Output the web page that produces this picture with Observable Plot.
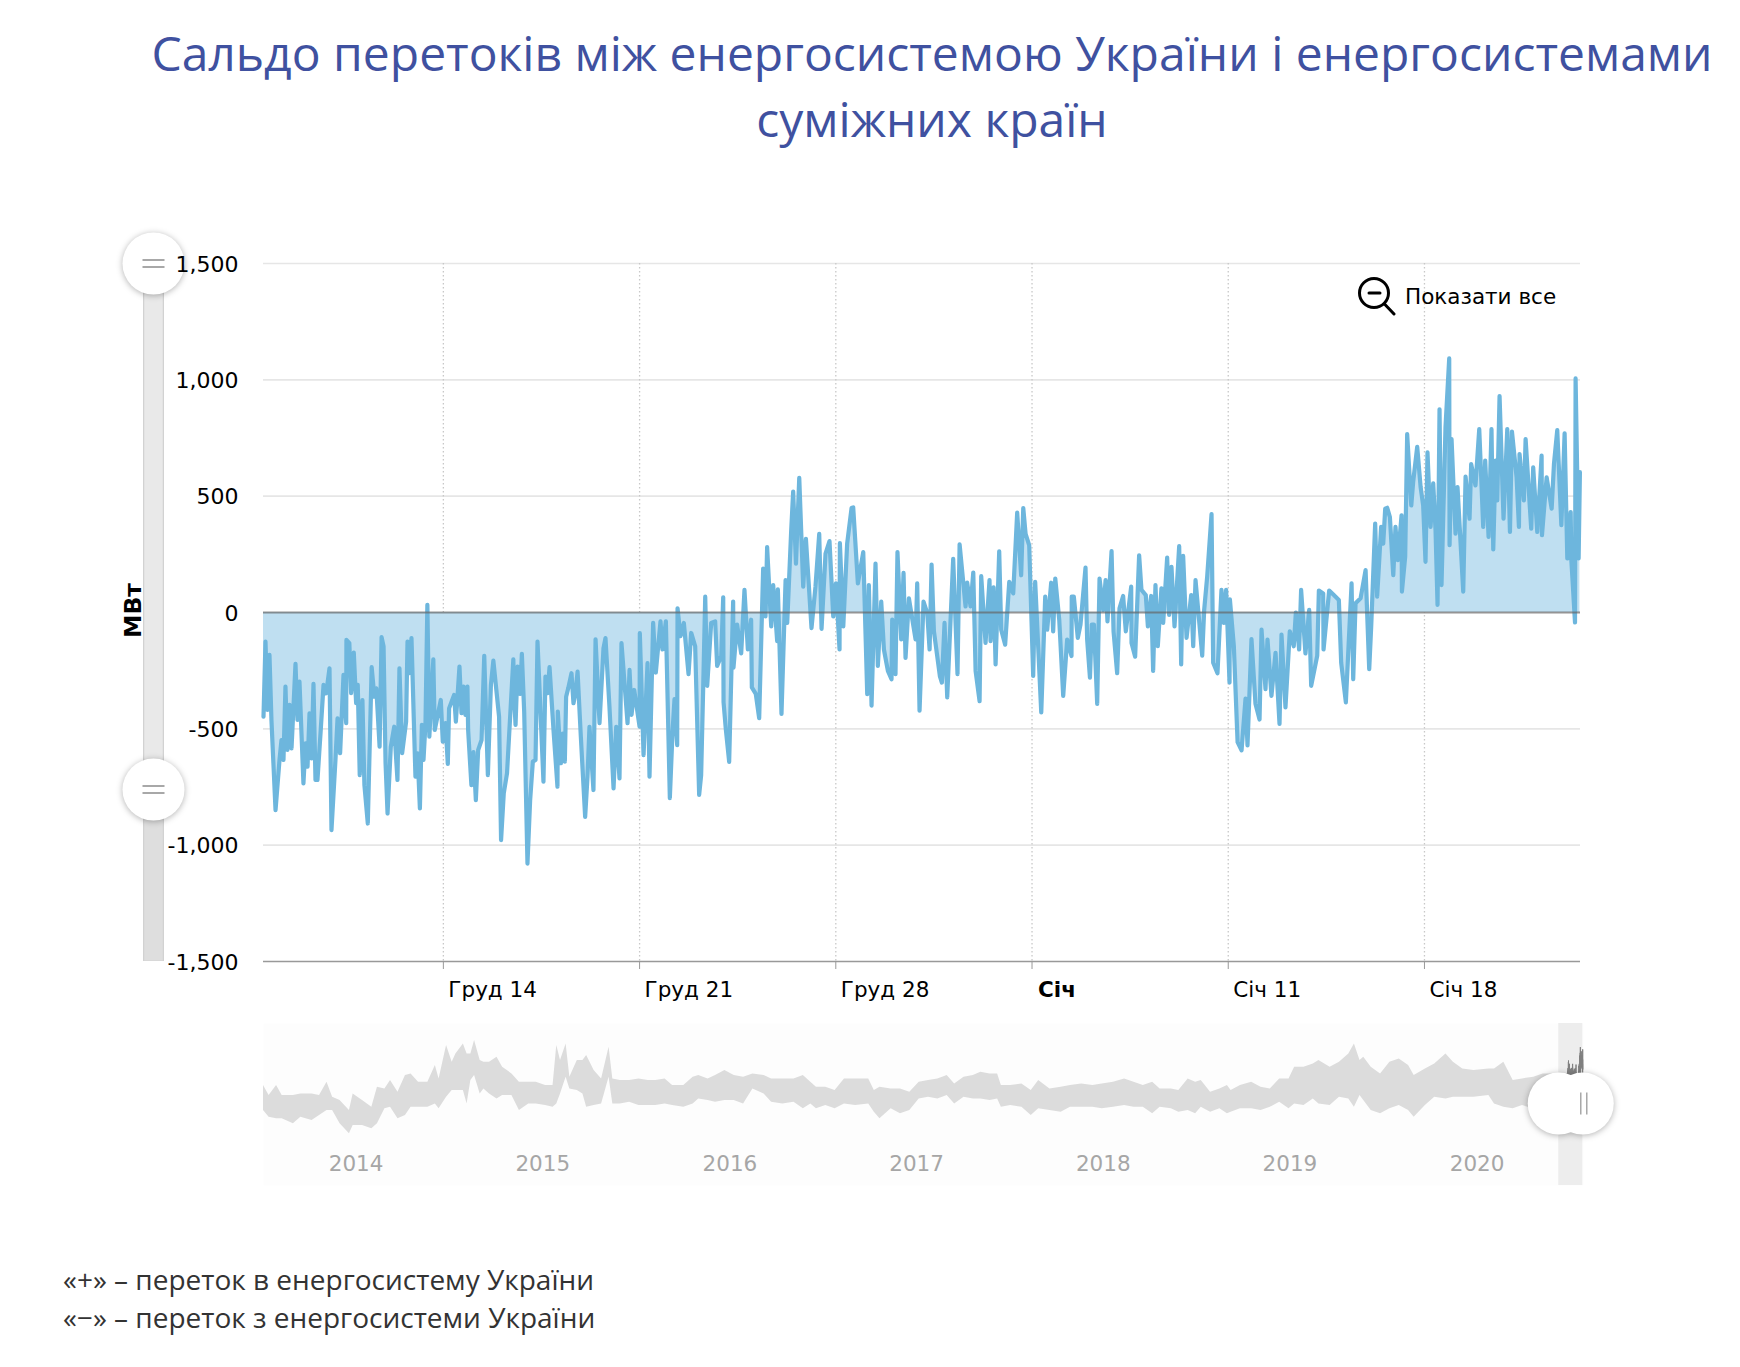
<!DOCTYPE html>
<html lang="uk">
<head>
<meta charset="utf-8">
<script src="https://cdn.jsdelivr.net/npm/d3@7"></script>
<script src="https://cdn.jsdelivr.net/npm/@observablehq/plot@0.6"></script>
<style>
  html, body { margin: 0; padding: 0; background: #fff; width: 1740px; height: 1367px; overflow: hidden; }
  #page { position: relative; width: 1740px; height: 1367px; }
  h1 { margin: 0; position: absolute; left: 100px; top: 20px; width: 1664px; text-align: center;
       font: 400 48px/66px "Open Sans", sans-serif; color: #3f51a0; z-index: 2; white-space: nowrap; }
  #main { position: absolute; left: 0; top: 190px; }
  #nav { position: absolute; left: 0; top: 1010px; }
  #reset { position: absolute; left: 1357px; top: 276px; display: flex; align-items: center; z-index: 2;
           font: 21.5px "DejaVu Sans", sans-serif; color: #000; }
  #reset svg { margin-right: 8px; display: block; }
  #caption { position: absolute; left: 63px; top: 1260px; font: 400 28px/38px "Open Sans", sans-serif; color: #333; z-index: 2; }
  .handle { filter: drop-shadow(0 1px 3px rgba(0,0,0,.3)); }
</style>
</head>
<body>
<div id="page">
  <h1>Сальдо перетоків між енергосистемою України і енергосистемами<br>суміжних країн</h1>
  <div id="main"></div>
  <div id="nav"></div>
  <div id="reset">
    <svg width="40" height="40" viewBox="0 0 40 40" fill="none" stroke="#000" stroke-width="3" stroke-linecap="round">
      <circle cx="17" cy="17" r="14.5"/><path d="M12 17H23"/><path d="M27.500 28L37 38"/>
    </svg>
    <span>Показати все</span>
  </div>
  <div id="caption">«+» – переток в енергосистему України<br>«−» – переток з енергосистеми України</div>
</div>
<script>
// Net balance (hours since the start of the visible window, MW)
const balanceA = [[0,-448],[1.7,-125],[3.4,-419],[5.1,-182],[6.8,-462],[10.3,-849],[13.7,-634],[15.4,-548],[17.1,-634],[18.8,-318],[20.5,-591],[22.3,-397],[24,-584],[27.4,-221],[29.1,-462],[30.8,-297],[34.2,-735],[36,-562],[37.7,-663],[39.4,-433],[41.1,-627],[42.8,-307],[44.5,-720],[46.2,-720],[49,-505],[51.4,-311],[53.7,-347],[56.5,-240],[58.2,-935],[61.6,-634],[63.4,-455],[65.6,-605],[68.5,-268],[70.8,-476],[71,-118],[73.5,-132],[75,-347],[77.3,-172],[79.3,-390],[80.7,-311],[82.4,-699],[84.7,-376],[86.4,-742],[89.3,-907],[92.6,-235],[94.9,-362],[96.6,-326],[99.4,-577],[101.1,-106],[102.8,-146],[104.5,-648],[106.2,-864],[109,-577],[111.9,-491],[114.7,-720],[116.4,-240],[118.7,-605],[122.1,-469],[123.3,-125],[124.9,-261],[126.7,-110],[130.1,-706],[131.9,-605],[133.9,-842],[135.6,-483],[137,-634],[138.7,-475],[140.3,33],[142,-534],[145.4,-201],[146.6,-505],[151.8,-376],[153.5,-555],[155.8,-475],[157.8,-651],[158.9,-412],[163.2,-354],[164.7,-469],[167.8,-232],[169.5,-433],[171.2,-318],[172.9,-440],[174.6,-318],[175.2,-505],[178,-742],[179.8,-600],[181.8,-806],[183.8,-591],[186.7,-548],[189,-186],[192.1,-699],[194.7,-311],[196.8,-207],[201.7,-448],[203.4,-978],[205.7,-778],[208.5,-691],[213.9,-201],[214.6,-362],[215.8,-483],[217.5,-232],[219.8,-350],[221.2,-178],[223.2,-426],[226,-1079],[228.3,-806],[230.6,-641],[232.9,-634],[234.6,-125],[239.7,-727],[241.4,-275],[243.2,-347],[244.9,-235],[248.3,-505],[251.7,-749],[252,-426],[254.6,-648],[256.3,-520],[258,-641],[259.1,-362],[260.9,-326],[263.7,-261],[265.4,-390],[267.1,-347],[268.9,-254],[271.7,-534],[275.4,-878],[277.4,-706],[279.1,-491],[282.5,-763],[284.3,-115],[287.7,-476],[291.1,-153],[292.8,-110],[296.2,-405],[299.7,-756],[302,-491],[304.8,-713],[306.5,-132],[311.7,-476],[313.4,-247],[315.1,-440],[317.4,-333],[322,-491],[322.2,-89],[325.4,-613],[328.8,-218],[330.5,-706]];
const balanceB = [[333.6,-45],[335.9,-258],[339.9,-38],[341.6,-159],[344.5,-38],[347.9,-798],[350.2,-514],[351.9,-372],[354.2,-570],[354.5,18],[357,-102],[359.9,-45],[363.9,-265],[366.2,-88],[369.6,-145],[373,-784],[374.7,-700],[376.5,-315],[378.2,68],[379.9,-315],[383.3,-45],[386.7,-38],[388.4,-230],[391.9,-187],[393.6,65],[393.9,-386],[395.8,-500],[398.7,-642],[402.1,47],[402.4,-237],[405.5,-52],[409,-176],[411.8,97],[414.7,-159],[417.5,-31],[418.1,-322],[421.5,-350],[424.4,-454],[427.8,189],[429.8,-17],[431.2,281],[434.7,-60],[436.4,118],[439.8,-123],[440.4,99],[443.5,-436],[447,139],[448.4,-45],[451.8,352],[453.5,520],[455.9,210],[458.7,579],[462.1,111],[464.4,317],[469.2,-67],[472.6,111],[475.8,338],[477.8,-70],[481.2,253],[484.6,307],[487.8,-17],[490.1,125],[493.2,-159],[493.5,298],[496.4,-60],[499.7,295],[503.5,449],[504.9,452],[508.9,125],[513.5,260],[516.9,-351],[518.3,118],[520.6,-400],[524,210],[526,-230],[528.9,47],[531.2,-159],[534.6,-251],[537.7,-287],[538.3,-31],[541.1,-265],[542.8,260],[546,-116],[548,170],[549.7,-195],[552.6,61],[558.3,-116],[559.7,125],[561.7,-422],[565.1,47],[568.3,-3],[570.3,-159],[572,206],[574,-81],[579.1,-273],[580.8,-301],[583.1,-45],[585.4,-365],[590.5,231],[594.2,-265],[596,293],[601.1,26],[602.5,128],[605.4,26],[607.7,172],[609.7,-251],[613.1,-381],[614.5,156],[618.2,-131],[621.6,139],[622.5,-123],[625.1,108],[626.8,-223],[629.9,263],[631.6,-74],[635,-138],[638.5,132],[641.9,82],[645.3,429],[648.7,160],[650.5,449],[652.5,338],[655.6,288],[659,-273],[660.7,132],[665.9,-429],[669.3,68],[671,-74],[674.4,128],[676.1,-81],[677.9,146],[681.3,-31],[684.7,-358],[688.1,-116]];
const balanceC = [[691.8,-187],[692,68],[693.8,68],[697.2,-109],[699.5,-52],[701.8,80],[703.8,193],[705.2,-116],[707.6,-280],[709.2,-52],[711,-52],[713.8,-393],[715.8,146],[719,11],[721,139],[722.6,-38],[726.1,264],[727.8,-81],[730.9,-261],[732.9,18],[736,71],[738.3,-81],[742.9,111],[743.2,-131],[746.3,-190],[749.7,246],[751.7,97],[755.4,75],[757.2,-60],[760,71],[761.7,-251],[763.7,118],[765.7,-145],[768.8,104],[770.3,-45],[773.7,236],[775.4,-10],[777.4,196],[780,-60],[784,285],[785.7,-223],[787.4,243],[790.3,-109],[794.3,75],[796,-145],[798,139],[803.7,-185],[805.4,11],[808,156],[811.7,423],[813.1,-216],[816.8,-261],[820.2,97],[822.2,-45],[824.2,97],[827.1,-301],[827.4,57],[830.8,-145],[834,-557],[837.4,-592],[840.8,-370],[842.5,-571],[845.9,-114],[849.3,-392],[852.8,-460],[854.5,-74],[857.9,-329],[859.6,-116],[863,-358],[866.5,-173],[869.9,-479],[871.6,-95],[875,-408],[878.7,-81],[882.1,-145],[883.9,0],[886.7,-159],[888.4,97],[892.1,-176],[895.3,11],[897,-315],[902.2,-185],[903.6,94],[907.3,82],[907.6,-159],[912.4,94],[916.4,75],[920.7,54],[922.7,-216],[926.7,-386],[931.6,125],[933,-287],[935,40],[939.3,61],[943.6,182],[946.7,-244]];
const balanceD = [[948.4,-60],[951.8,382],[953.5,68],[956.9,368],[958.7,296],[960.4,446],[962.1,450],[964.4,410],[967.3,161],[969.2,368],[971.2,225],[974.4,418],[974.7,90],[977.5,240],[979.2,767],[982.7,460],[984.3,560],[987.8,712],[990.7,540],[992.9,460],[994.9,218],[996.6,688],[999.2,368],[1001.5,555],[1003.5,353],[1005.2,33],[1006.9,873],[1008.6,118],[1012,795],[1015.2,1092],[1015.5,289],[1017.2,745],[1020.6,339],[1022.3,539],[1027.2,90],[1029.2,584],[1032.6,403],[1034,638],[1037.7,546],[1040.9,788],[1044.3,368],[1046,653],[1048.9,325],[1051.4,788],[1052.9,271],[1054.9,653],[1056.3,482],[1058.3,930],[1061.7,403],[1064.9,788],[1067.2,346],[1068.9,778],[1072.9,580],[1074.9,368],[1075.4,681],[1079.1,482],[1080.6,745],[1085.4,360],[1087.1,624],[1090.6,346],[1094.3,674],[1094.6,332],[1098.6,581],[1102.9,446],[1104.9,640],[1107.7,784],[1111.2,375],[1114,770],[1116.3,232],[1119.2,432],[1119.7,232],[1122.9,-43],[1123.4,1006],[1126,232],[1127.1,603]];

// Navigator envelope: [decimal year, high MW, low MW]
const overview2014 = [[2014,-384,-1344],[2014.03,-768,-1600],[2014.07,-384,-1664],[2014.10,-768,-1664],[2014.16,-768,-1856],[2014.20,-704,-1600],[2014.26,-704,-1728],[2014.30,-768,-1536],[2014.34,-256,-1344],[2014.37,-832,-1344],[2014.41,-960,-1856],[2014.46,-1344,-2240],[2014.48,-704,-1920],[2014.53,-960,-1920],[2014.58,-1216,-2048],[2014.61,-448,-1856],[2014.65,-512,-1280],[2014.68,-192,-1216],[2014.72,-640,-1664],[2014.76,0,-1536],[2014.79,64,-1216],[2014.83,-256,-1216],[2014.88,-256,-1216],[2014.92,384,-1088],[2014.94,-128,-1280],[2014.98,1152,-832]];
const overview2015 = [[2015.01,512,-576],[2015.03,832,-576],[2015.07,1216,-576],[2015.09,832,-1088],[2015.11,832,-192],[2015.13,1344,0],[2015.16,576,-704],[2015.18,512,-512],[2015.21,512,-704],[2015.25,704,-896],[2015.28,320,-768],[2015.33,64,-768],[2015.37,-256,-1344],[2015.42,-256,-1088],[2015.46,-256,-1088],[2015.51,-384,-1152],[2015.55,-384,-1216],[2015.57,1152,-1088],[2015.59,576,-704],[2015.62,1216,-64],[2015.64,-64,-512],[2015.68,576,-576],[2015.71,576,-704],[2015.73,768,-1216],[2015.77,192,-1152],[2015.81,-128,-1088],[2015.85,1088,-64],[2015.87,-128,-1088],[2015.91,-192,-1088],[2015.96,-192,-1024]];
const overview2016 = [[2016.01,-128,-1152],[2016.06,-192,-1152],[2016.10,-192,-1152],[2016.15,-128,-1088],[2016.19,-384,-1152],[2016.25,-384,-1216],[2016.30,-64,-1088],[2016.33,0,-896],[2016.38,-128,-960],[2016.42,0,-1024],[2016.47,192,-960],[2016.52,0,-960],[2016.57,-64,-1088],[2016.62,64,-512],[2016.68,0,-704],[2016.72,-128,-1024],[2016.78,-128,-1088],[2016.84,-128,-1024],[2016.89,0,-1280],[2016.93,-256,-1088],[2016.96,-448,-1280]];
const overview2017 = [[2017.01,-448,-1152],[2017.06,-576,-1280],[2017.11,-128,-1088],[2017.17,-128,-1152],[2017.24,-128,-1088],[2017.27,-576,-1408],[2017.30,-448,-1664],[2017.36,-512,-1280],[2017.41,-512,-1472],[2017.46,-640,-1344],[2017.51,-256,-896],[2017.56,-192,-832],[2017.61,-128,-896],[2017.66,0,-768],[2017.70,-320,-1088],[2017.75,-64,-832],[2017.80,0,-896],[2017.84,128,-896],[2017.89,64,-960],[2017.93,64,-896],[2017.95,-384,-1216]];
const overview2018 = [[2018,-384,-1152],[2018.06,-320,-1216],[2018.11,-576,-1536],[2018.15,-192,-1280],[2018.21,-512,-1344],[2018.27,-448,-1408],[2018.32,-384,-1216],[2018.38,-320,-1216],[2018.44,-384,-1216],[2018.49,-320,-1280],[2018.55,-256,-1216],[2018.61,-128,-1152],[2018.66,-256,-1216],[2018.71,-384,-1216],[2018.76,-256,-1472],[2018.80,-512,-1216],[2018.86,-512,-1280],[2018.90,-576,-1408],[2018.95,-128,-1344],[2018.99,-256,-1472]];
const overview2019 = [[2019.02,-192,-1216],[2019.07,-640,-1408],[2019.12,-512,-1280],[2019.16,-384,-1472],[2019.18,-576,-1408],[2019.23,-384,-1280],[2019.29,-256,-1280],[2019.34,-448,-1344],[2019.39,-512,-1216],[2019.44,-128,-1024],[2019.49,-128,-1280],[2019.52,320,-1088],[2019.57,320,-1152],[2019.62,448,-896],[2019.65,576,-1088],[2019.71,320,-1152],[2019.76,512,-832],[2019.81,832,-896],[2019.84,1216,-1216],[2019.87,576,-768],[2019.89,704,-960],[2019.93,320,-1344],[2019.98,64,-1472]];
const overview2020 = [[2020.03,512,-1280],[2020.08,640,-1152],[2020.13,384,-1344],[2020.16,0,-1600],[2020.22,256,-1152],[2020.27,448,-832],[2020.33,832,-896],[2020.37,512,-832],[2020.42,256,-832],[2020.48,192,-832],[2020.56,256,-768],[2020.59,256,-1088],[2020.64,512,-1216],[2020.69,-192,-1280],[2020.74,-128,-1152],[2020.80,-64,-1280],[2020.85,64,-1152],[2020.93,64,-1216]];

const yTicks = [-1500, -1000, -500, 0, 500, 1000, 1500];
const tickDays = ["2020-12-14", "2020-12-21", "2020-12-28", "2021-01-04", "2021-01-11", "2021-01-18"];
const tickLabels = ["Груд 14", "Груд 21", "Груд 28", "Січ", "Січ 11", "Січ 18"];
const boldTick = "2021-01-04";
const navYears = [2014, 2015, 2016, 2017, 2018, 2019, 2020];

const windowStart = Date.UTC(2020, 11, 7, 14);
const windowEnd = new Date(windowStart + 1127.6 * 36e5);
const hourDate = h => new Date(windowStart + h * 36e5);
const series = [...balanceA, ...balanceB, ...balanceC, ...balanceD].map(([h, v]) => ({t: hourDate(h), v}));
const tickD = tickDays.map(d => new Date(d + "T00:00Z"));
const boldD = new Date(boldTick + "T00:00Z");
const labelOf = new Map(tickD.map((d, i) => [+d, tickLabels[i]]));
const font = '"DejaVu Sans", sans-serif';
const axisFormat = v => (v < 0 ? "-" : "") + d3.format(",")(Math.abs(v));
const hSym = {draw(c) { c.moveTo(-11, -3.500); c.lineTo(11, -3.500); c.moveTo(-11, 3.500); c.lineTo(11, 3.500); }};
const vSym = {draw(c) { c.moveTo(-3, -11); c.lineTo(-3, 11); c.moveTo(3, -11); c.lineTo(3, 11); }};

const main = Plot.plot({
  width: 1740, height: 820,
  marginTop: 73, marginBottom: 49, marginLeft: 263, marginRight: 160,
  style: {fontFamily: font, fontSize: "21px", color: "#000", overflow: "visible", background: "transparent"},
  x: {type: "utc", domain: [new Date(windowStart), windowEnd], axis: null},
  y: {domain: [-1500, 1500], axis: null},
  marks: [
    Plot.ruleY(yTicks.filter(d => d !== -1500 && d !== 0), {stroke: "#e6e6e6", strokeWidth: 1.6}),
    Plot.ruleX(tickD, {stroke: "#c8c8c8", strokeWidth: 1.3, strokeDasharray: "1.500,2.500"}),
    Plot.ruleY([-1500], {stroke: "#999", strokeWidth: 1.6}),
    Plot.areaY(series, {x: "t", y1: 0, y2: "v", fill: "#bfdff1", curve: "linear"}),
    Plot.lineY(series, {x: "t", y: "v", stroke: "#6db6dd", strokeWidth: 4.2, curve: "linear"}),
    Plot.ruleY([0], {stroke: "#666", strokeOpacity: 0.7, strokeWidth: 1.8}),
    Plot.axisX(tickD, {anchor: "bottom", tickSize: 8, stroke: "#999", tickFormat: () => "", label: null}),
    Plot.axisX(tickD.filter(d => +d !== +boldD), {
      anchor: "bottom", tickSize: 0, tickPadding: 20, dx: 5, textAnchor: "start",
      tickFormat: d => labelOf.get(+d), fontSize: 21.5, fill: "#000", label: null
    }),
    Plot.axisX([boldD], {
      anchor: "bottom", tickSize: 0, tickPadding: 20, dx: 6, textAnchor: "start",
      tickFormat: d => labelOf.get(+d), fontSize: 21.5, fontWeight: 700, fill: "#000", label: null
    }),
    // vertical range scroller, positioned in value units on the y scale
    Plot.ruleX([new Date(windowStart)], {y1: -1500, y2: 1500, dx: -110, stroke: "#d2d2d2", strokeWidth: 21}),
    Plot.ruleX([new Date(windowStart)], {y1: -761, y2: 1500, dx: -110, stroke: "#e9e9e9", strokeWidth: 18.500}),
    Plot.ruleX([new Date(windowStart)], {y1: -1498, y2: -761, dx: -110, stroke: "#dedede", strokeWidth: 18.500}),
    Plot.dot([1500, -761], {x: () => new Date(windowStart), y: d => d, dx: -110, r: 31, fill: "#fff", className: "handle"}),
    Plot.dot([1500, -761], {x: () => new Date(windowStart), y: d => d, dx: -110, r: 10, symbol: hSym, fill: "none", stroke: "#a8a8a8", strokeWidth: 2}),
    Plot.axisY(yTicks, {anchor: "left", tickSize: 0, tickPadding: 25, dy: 1, tickFormat: axisFormat, fontSize: 22, fill: "#000", label: null}),
    Plot.text(["МВт"], {frameAnchor: "left", text: d => d, textAnchor: "middle", dx: -130, dy: -2, rotate: -90, fontSize: 23.5, fontWeight: 700, fill: "#000"})
  ]
});
document.getElementById("main").append(main);

const yearDate = y => new Date(Date.UTC(2014, 0, 1) + (y - 2014) * 365.25 * 864e5);
const overview = [...overview2014, ...overview2015, ...overview2016, ...overview2017, ...overview2018, ...overview2019, ...overview2020]
  .map(([y, hi, lo]) => ({t: yearDate(y), hi, lo}));

const nav = Plot.plot({
  width: 1740, height: 190,
  marginTop: 13, marginBottom: 15, marginLeft: 263, marginRight: 157,
  style: {fontFamily: font, fontSize: "21px", overflow: "visible", background: "transparent"},
  x: {type: "utc", domain: [new Date(Date.UTC(2014, 0, 1)), new Date(Date.UTC(2021, 0, 25))], axis: null},
  y: {domain: [-4224, 2000], axis: null},
  marks: [
    Plot.frame({fill: "#fdfdfd", stroke: "none"}),
    Plot.rectX([0], {x1: () => new Date(windowStart), x2: () => windowEnd, y1: -4224, y2: 2000, fill: "#ededed"}),
    Plot.areaY(overview, {x: "t", y1: "lo", y2: "hi", fill: "#dcdcdc", curve: "linear"}),
    Plot.lineY(series, {x: "t", y: "v", stroke: "#808080", strokeWidth: 1}),
    Plot.axisX(navYears.map(y => new Date(Date.UTC(y, 6, 1))), {
      anchor: "bottom", tickSize: 0, dy: -39, tickFormat: d => String(d.getUTCFullYear()), fill: "#a6a6a6", fontSize: 21.5, label: null
    }),
    Plot.dot([new Date(windowStart), windowEnd], {x: d => d, y: () => -1075, r: 31, fill: "#fff", className: "handle"}),
    Plot.dot([windowEnd], {x: d => d, y: () => -1075, dx: 1, r: 10, symbol: vSym, fill: "none", stroke: "#a8a8a8", strokeWidth: 1.500})
  ]
});
document.getElementById("nav").append(nav);
</script>
</body>
</html>
